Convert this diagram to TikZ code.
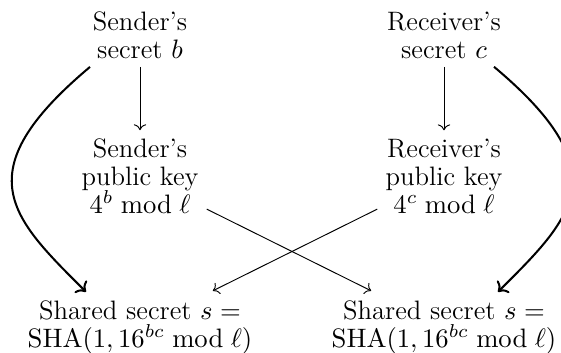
\RequirePackage{fix-cm}
\documentclass[tikz,border=0pt]{standalone}
\usetikzlibrary{arrows.meta}
\begin{document}
\begin{tikzpicture}[x=0.42pt,y=-0.42pt,
  lbl/.style={align=center, inner sep=3.3pt, font=\fontsize{11.2}{11.8}\selectfont},
  thinarrow/.style={->, line width=0.4pt},
  crossarrow/.style={->, line width=0.4pt, shorten >=1pt},
  bentarrow/.style={->, line width=0.85pt}]
\useasboundingbox (0,0) rectangle (561,352);

% secrets
\node[lbl] (sb) at (140,35) {Sender's\\secret $b$};
\node[lbl] (rc) at (444,35) {Receiver's\\secret $c$};

% public keys
\node[lbl] (sk) at (140,176) {Sender's\\public key\\$4^b \bmod \ell$};
\node[lbl] (rk) at (444,176) {Receiver's\\public key\\$4^c \bmod \ell$};

% shared secrets
\node[lbl] (ssl) at (140,327) {Shared secret $s=$\\$\mathrm{SHA}(1,16^{bc} \bmod \ell)$};
\node[lbl] (ssr) at (444,327) {Shared secret $s=$\\$\mathrm{SHA}(1,16^{bc} \bmod \ell)$};

% key derivation
\draw[thinarrow] (sb) -- (sk);
\draw[thinarrow] (rc) -- (rk);

% exchanged public keys
\draw[crossarrow] (sk) -- (ssr);
\draw[crossarrow] (rk) -- (ssl);

% own secrets carried down to the shared secret
\draw[bentarrow] ([shift={(-50,0)}]sb.south)
  .. controls +(140:165) and +(225:105) .. ([shift={(-54,0)}]ssl.north);
\draw[bentarrow] ([shift={(50,0)}]rc.south)
  .. controls +(40:165) and +(-45:105) .. ([shift={(54,0)}]ssr.north);
\end{tikzpicture}
\end{document}
